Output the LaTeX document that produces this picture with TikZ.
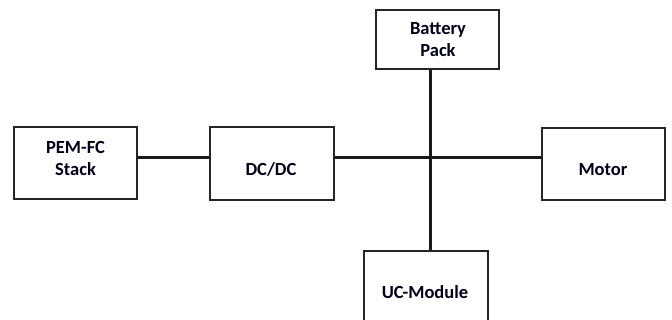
\documentclass[tikz,border=0pt]{standalone}
\usepackage{fontspec}
\setmainfont{Carlito}
\begin{document}
\begin{tikzpicture}[x=1pt,y=-1pt,
  blk/.style={draw=black!85,line width=1.5pt,fill=white,inner sep=0pt},
  lbl/.style={font=\bfseries\fontsize{18.5}{22.5}\selectfont,text=black!90!blue,align=center,inner sep=0pt,anchor=base},
  bus/.style={line width=3pt,black!90}]
\useasboundingbox (0,0) rectangle (672,320);
\clip (0,0) rectangle (672,320);
\coordinate (j) at (430,158);
\node[blk,minimum width=123pt,minimum height=72pt] (pem) at (75.5,163) {};
\node[blk,minimum width=124pt,minimum height=73pt] (dcdc) at (272,163.5) {};
\node[blk,minimum width=123pt,minimum height=59pt] (bat) at (437.5,39.5) {};
\node[blk,minimum width=123pt,minimum height=72pt] (mot) at (603.5,164) {};
\node[blk,minimum width=124pt,minimum height=74pt] (uc) at (426,288) {};
\draw[bus] (pem.east |- j) -- (dcdc.west |- j);
\draw[bus] (dcdc.east |- j) -- (mot.west |- j);
\draw[bus] (j |- bat.south) -- (j |- uc.north);
\node[lbl] (pemT) at (75.5,175.7) {PEM-FC\\Stack};
\node[lbl] (dcdcT) at (271,175.7) {DC/DC};
\node[lbl] (batT) at (438,56.7) {Battery\\Pack};
\node[lbl] (motT) at (603,176) {Motor};
\node[lbl] (ucT) at (425,299) {UC-Module};
\end{tikzpicture}
\end{document}
